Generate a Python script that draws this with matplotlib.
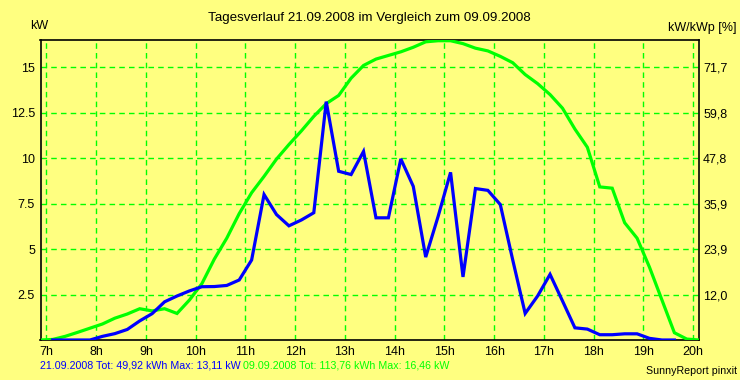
import matplotlib
matplotlib.use("Agg")
import matplotlib.pyplot as plt
import numpy as np

# Time stamps: quarter-hour interval midpoints (hours)
t_green_start = 6.875
green_values = [0.0, 0.03, 0.2, 0.42, 0.65, 0.88, 1.2, 1.43, 1.72, 1.6, 1.72, 1.46, 2.2, 3.1,
                4.45, 5.6, 6.95, 8.1, 9.0, 9.95, 10.75, 11.5, 12.3, 13.0, 13.45, 14.4, 15.1,
                15.45, 15.65, 15.85, 16.1, 16.4, 16.46, 16.46, 16.3, 16.05, 15.9, 15.6, 15.25,
                14.6, 14.1, 13.5, 12.75, 11.6, 10.6, 8.42, 8.35, 6.45, 5.6, 4.0, 2.2, 0.4, 0.05, 0.0]
t_blue_start = 7.125
blue_values = [0.0, 0.0, 0.0, 0.0, 0.2, 0.35, 0.58, 1.05, 1.45, 2.1, 2.42, 2.7, 2.93, 2.94,
               3.0, 3.3, 4.4, 8.0, 6.9, 6.28, 6.6, 7.0, 13.11, 9.28, 9.1, 10.37, 6.72, 6.72,
               9.96, 8.45, 4.56, 6.8, 9.22, 3.47, 8.33, 8.23, 7.45, 4.4, 1.46, 2.42, 3.61,
               2.15, 0.67, 0.6, 0.29, 0.29, 0.34, 0.34, 0.09, 0.0, 0.0]

hour_ticks = list(range(7, 21))
hour_labels = [f"{h}h" for h in hour_ticks]
kw_ticks = [2.5, 5, 7.5, 10, 12.5, 15]
kw_labels = ["2.5", "5", "7.5", "10", "12.5", "15"]
pct_labels = ["12,0", "23,9", "35,9", "47,8", "59,8", "71,7"]
pct_factor = 4.78

title = "Tagesverlauf 21.09.2008 im Vergleich zum 09.09.2008"
legend_blue = "21.09.2008 Tot: 49,92 kWh Max: 13,11 kW"
legend_green = "09.09.2008 Tot: 113,76 kWh Max: 16,46 kW"

BG = "#FFFF80"
GREEN = "#00FF00"
BLUE = "#0000FF"

plt.rcParams["font.family"] = ["Liberation Sans", "DejaVu Sans"]
fs = 9.0
fs_small = 7.7

fig = plt.figure(figsize=(7.4, 3.8), dpi=100, facecolor=BG)
ax = fig.add_axes([40.5 / 740, 40 / 380, (699 - 40.5) / 740, 300 / 380])
ax.set_facecolor(BG)

tg = t_green_start + 0.25 * np.arange(len(green_values))
tb = t_blue_start + 0.25 * np.arange(len(blue_values))

xmin, xmax = 6.88, 20.12
ymin, ymax = 0.0, 16.5

# grid
for h in hour_ticks:
    ax.axvline(h, color=GREEN, lw=1.0, ls=(0, (4, 3)), zorder=1)
for v in kw_ticks:
    ax.axhline(v, color=GREEN, lw=1.0, ls=(0, (4, 3)), zorder=1)

ax.plot(tg, green_values, color=GREEN, lw=2.3, zorder=3, solid_joinstyle="miter")
ax.plot(tb, blue_values, color=BLUE, lw=2.3, zorder=4, solid_joinstyle="miter")

ax.set_xlim(xmin, xmax)
ax.set_ylim(ymin, ymax)
ax.set_xticks(hour_ticks)
ax.set_xticklabels(hour_labels, fontsize=fs)
ax.set_yticks(kw_ticks)
ax.set_yticklabels(kw_labels, fontsize=fs)
ax.tick_params(axis="both", length=0, pad=4)
for s in ax.spines.values():
    s.set_color("black")
    s.set_linewidth(1.2)

ax2 = ax.twinx()
ax2.set_ylim(ymin * pct_factor, ymax * pct_factor)
ax2.set_yticks([v * pct_factor for v in kw_ticks])
ax2.set_yticklabels(pct_labels, fontsize=fs)
ax2.tick_params(axis="y", length=0, pad=3)
for s in ax2.spines.values():
    s.set_visible(False)

fig.text(369 / 740, 1 - 18 / 380, title, ha="center", va="center", fontsize=9.6)
fig.text(30 / 740, 1 - 26 / 380, "kW", ha="left", va="center", fontsize=fs)
fig.text(737 / 740, 1 - 28 / 380, "kW/kWp [%]", ha="right", va="center", fontsize=fs)

tb_text = fig.text(40 / 740, 1 - 366 / 380, legend_blue, ha="left", va="center",
                   fontsize=fs_small, color=BLUE)
fig.canvas.draw()
bb = tb_text.get_window_extent()
fig.text((bb.x1 + 2) / 740, 1 - 366 / 380, legend_green, ha="left", va="center",
         fontsize=fs_small, color=GREEN)
fig.text(737 / 740, 1 - 371 / 380, "SunnyReport pinxit", ha="right", va="center",
         fontsize=fs_small, color="black")

fig.savefig("out.png", dpi=100, facecolor=BG)
